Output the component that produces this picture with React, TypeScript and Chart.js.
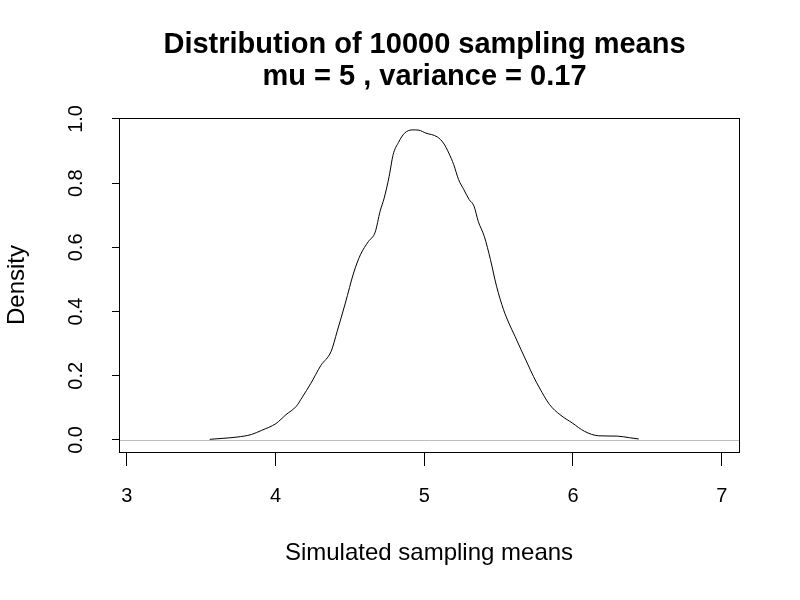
import React, { useEffect, useRef } from "react";
import { Chart, registerables } from "chart.js";

Chart.register(...registerables);

// Kernel density estimate of 10000 simulated sampling means (read from the picture;
// the near-zero tails are hidden under the grey zero line in the original)
const densityX: number[] = [
  3.558, 3.646, 3.742, 3.838, 3.907, 4.003, 4.071, 4.14, 4.181,
  4.236, 4.305, 4.374, 4.415, 4.47, 4.525, 4.571, 4.626, 4.67, 4.703, 4.731, 4.764,
  4.791, 4.827, 4.868, 4.923, 4.964, 5.011, 5.088, 5.129, 5.165, 5.198, 5.231, 5.266,
  5.302, 5.335, 5.363, 5.404, 5.445, 5.486, 5.533, 5.569, 5.61, 5.651, 5.692, 5.734,
  5.775, 5.843, 5.912, 5.995, 6.077, 6.173, 6.297, 6.379, 6.442,
];
const densityY: number[] = [
  0.002, 0.005, 0.009, 0.017, 0.03, 0.051, 0.079, 0.105, 0.134,
  0.175, 0.232, 0.276, 0.339, 0.427, 0.52, 0.577, 0.619, 0.647, 0.712, 0.754, 0.821,
  0.889, 0.927, 0.956, 0.966, 0.965, 0.956, 0.944, 0.925, 0.894, 0.858, 0.811, 0.78,
  0.749, 0.728, 0.681, 0.634, 0.562, 0.479, 0.406, 0.364, 0.323, 0.281, 0.24, 0.198,
  0.162, 0.11, 0.079, 0.053, 0.027, 0.013, 0.012, 0.007, 0.003,
];

const xTicks: number[] = [3, 4, 5, 6, 7];
const yTicks: number[] = [0, 0.2, 0.4, 0.6, 0.8, 1.0];
const xRange: number[] = [2.948, 7.116];
const yRange: number[] = [-0.0375, 1.003];
const zeroLevel = 0;

const titleLines: string[] = [
  "Distribution of 10000 sampling means",
  "mu = 5 , variance = 0.17",
];
const xTitle = "Simulated sampling means";
const yTitle = "Density";

const FONT = "'Liberation Sans', Arial, Helvetica, sans-serif";

// R-style frame around the plot region plus the grey zero line drawn on top of the curve
const framePlugin = {
  id: "rframe",
  afterLayout(chart: any) {
    // R centres the main title slightly left of the plot-region centre
    const tb = chart.titleBlock;
    if (tb) tb.left -= 9;
  },
  afterDatasetsDraw(chart: any) {
    const { ctx, chartArea, scales } = chart;
    const l = Math.floor(chartArea.left) + 0.5;
    const t = Math.floor(chartArea.top) + 0.5;
    const r = Math.floor(chartArea.right) + 0.5;
    const b = Math.floor(chartArea.bottom) + 0.5;
    ctx.save();
    const y0 = Math.round(scales.y.getPixelForValue(zeroLevel)) + 0.5;
    ctx.strokeStyle = "#BEBEBE";
    ctx.lineWidth = 1;
    ctx.beginPath();
    ctx.moveTo(l, y0);
    ctx.lineTo(r, y0);
    ctx.stroke();
    ctx.strokeStyle = "#000000";
    ctx.strokeRect(l, t, r - l, b - t);
    ctx.restore();
  },
};

export default function App() {
  const canvasRef = useRef<HTMLCanvasElement | null>(null);

  useEffect(() => {
    if (!canvasRef.current) return;
    const curve = densityX.map((x, i) => ({ x, y: densityY[i] }));

    const chart = new Chart(canvasRef.current, {
      type: "line",
      data: {
        datasets: [
          {
            label: "density",
            data: curve,
            borderColor: "#000000",
            borderWidth: 1,
            pointRadius: 0,
            cubicInterpolationMode: "monotone",
            fill: false,
          },
        ],
      },
      options: {
        animation: false,
        responsive: false,
        devicePixelRatio: 1,
        layout: { padding: { left: 0, right: 61, top: 0, bottom: 0 } },
        plugins: {
          legend: { display: false },
          tooltip: { enabled: false },
          title: {
            display: true,
            fullSize: false,
            text: titleLines,
            color: "#000000",
            font: { family: FONT, size: 29, weight: "bold", lineHeight: 1.1207 },
            padding: { top: 28.5, bottom: 24.5 },
          },
        },
        scales: {
          x: {
            type: "linear",
            position: "bottom",
            min: xRange[0],
            max: xRange[1],
            afterBuildTicks: (scale: any) => {
              scale.ticks = xTicks.map((v) => ({ value: v }));
            },
            afterFit: (scale: any) => {
              scale.height = 148;
            },
            ticks: {
              autoSkip: false,
              maxRotation: 0,
              minRotation: 0,
              padding: 18,
              color: "#000000",
              font: { family: FONT, size: 20 },
              callback: (v: any) => String(v),
            },
            grid: {
              drawOnChartArea: false,
              drawTicks: true,
              tickLength: 14,
              tickColor: "#000000",
              color: "#000000",
              lineWidth: 1,
            },
            border: { display: false },
            title: {
              display: true,
              text: xTitle,
              color: "#000000",
              font: { family: FONT, size: 24 },
              padding: { top: 0, bottom: 32 },
            },
          },
          y: {
            type: "linear",
            position: "left",
            min: yRange[0],
            max: yRange[1],
            afterBuildTicks: (scale: any) => {
              scale.ticks = yTicks.map((v) => ({ value: v }));
            },
            afterFit: (scale: any) => {
              scale.width = 119;
            },
            ticks: {
              autoSkip: false,
              minRotation: 90,
              maxRotation: 90,
              crossAlign: "center",
              padding: 22,
              color: "#000000",
              font: { family: FONT, size: 20 },
              callback: (v: any) => Number(v).toFixed(1),
            },
            grid: {
              drawOnChartArea: false,
              drawTicks: true,
              tickLength: 7,
              tickColor: "#000000",
              color: "#000000",
              lineWidth: 1,
            },
            border: { display: false },
            title: {
              display: true,
              text: yTitle,
              color: "#000000",
              font: { family: FONT, size: 24 },
              padding: { top: 3.1, bottom: 0 },
            },
          },
        },
      } as any,
      plugins: [framePlugin],
    });

    return () => {
      chart.destroy();
    };
  }, []);

  return (
    <div style={{ position: "absolute", left: 0, top: 0, width: 800, height: 600, background: "#ffffff" }}>
      <canvas ref={canvasRef} width={800} height={600} style={{ display: "block" }} />
    </div>
  );
}
